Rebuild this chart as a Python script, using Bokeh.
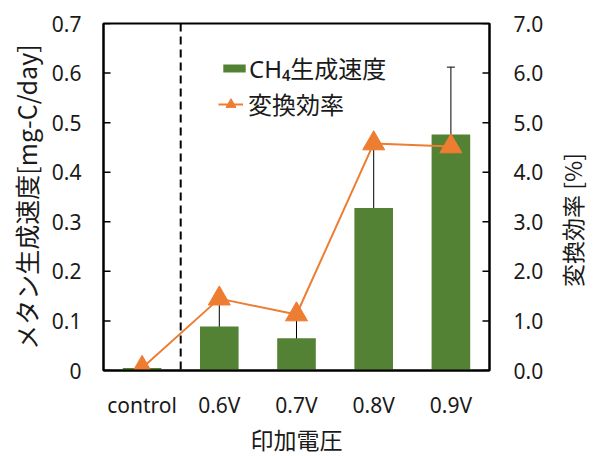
import math
from bokeh.plotting import figure
from bokeh.layouts import row
from bokeh.models import (Range1d, LinearAxis, FixedTicker, PrintfTickFormatter, Span,
                          Whisker, TeeHead, ColumnDataSource, Legend, LegendItem, FactorRange)
from bokeh.core.properties import value
from bokeh.embed import file_html
from bokeh.resources import INLINE

categories = ["control", "0.6V", "0.7V", "0.8V", "0.9V"]
ch4_rate = [0.005, 0.089, 0.065, 0.328, 0.476]
ch4_err = [0.0, 0.065, 0.051, 0.128, 0.136]
efficiency = [0.05, 1.45, 1.13, 4.58, 4.52]
left_ticks = [0, 0.1, 0.2, 0.3, 0.4, 0.5, 0.6, 0.7]
right_ticks = [0, 1, 2, 3, 4, 5, 6, 7]
right_label = "変換効率 [%]"

GREEN = "#548235"
ORANGE = "#ED7D31"
JP = "Noto Sans CJK JP"
LAT = "Noto Sans"
TXT = "#1a1a1a"

BL, BT, FW, FH, BR, BB = 103, 23, 386, 347, 60, 80
H = BT + FH + BB

lower = [v - e for v, e in zip(ch4_rate, ch4_err)]
upper = [v + e for v, e in zip(ch4_rate, ch4_err)]
src = ColumnDataSource(dict(cat=categories, rate=ch4_rate, lower=lower, upper=upper, eff=efficiency))
err_src = ColumnDataSource(dict(cat=categories[1:], lower=lower[1:], upper=upper[1:]))

p = figure(x_range=FactorRange(factors=categories), y_range=Range1d(0, 0.7),
           frame_width=FW, frame_height=FH,
           min_border_left=BL, min_border_right=BR, min_border_top=BT, min_border_bottom=BB,
           output_backend="svg", toolbar_location=None)
p.extra_y_ranges = {"right": Range1d(0, 7)}

bars = p.vbar(x="cat", top="rate", width=0.5, source=src, fill_color=GREEN, line_color=None)

wh = Whisker(base="cat", lower="lower", upper="upper", source=err_src, line_color="black", line_width=1,
             upper_head=TeeHead(size=8, line_color="black", line_width=1),
             lower_head=TeeHead(size=8, line_color="black", line_width=1))
p.add_layout(wh)

ln = p.line(x="cat", y="eff", source=src, y_range_name="right", line_color=ORANGE, line_width=2)
mk = p.scatter(x="cat", y="eff", source=src, y_range_name="right", marker="triangle", size=22,
               fill_color=ORANGE, line_color=ORANGE)

p.add_layout(Span(location=1, dimension="height", line_color="black", line_width=2, line_dash="8 5"))

# inward tick marks on both value axes (dash markers centred on the frame edges; outer half is clipped)
p.scatter(x=[0] * len(left_ticks), y=left_ticks, marker="dash", size=14,
          line_color="black", line_width=1.5)
p.scatter(x=[len(categories)] * len(right_ticks), y=right_ticks, y_range_name="right", marker="dash",
          size=14, line_color="black", line_width=1.5)

p.grid.visible = False
p.outline_line_color = "black"
p.outline_line_width = 2

ya = p.yaxis[0]
ya.ticker = FixedTicker(ticks=left_ticks)
ya.major_label_overrides = {0: "0"}
ya.axis_label = "メタン生成速度[mg-C/day]"

ra = LinearAxis(y_range_name="right", ticker=FixedTicker(ticks=right_ticks),
                formatter=PrintfTickFormatter(format="%.1f"))
p.add_layout(ra, "right")

xa = p.xaxis[0]
xa.axis_label = "印加電圧"

for ax in (ya, ra, xa):
    ax.axis_line_width = 2
    ax.axis_line_color = "black"
    ax.minor_tick_line_color = None
    ax.major_tick_line_color = None
    ax.major_tick_in = 0
    ax.major_tick_out = 0
    ax.major_label_text_font = LAT
    ax.major_label_text_font_size = "21px"
    ax.major_label_text_color = TXT
    ax.axis_label_text_font = JP
    ax.axis_label_text_font_size = "25px"
    ax.axis_label_text_font_style = "normal"
    ax.axis_label_text_color = TXT

ya.major_label_standoff = 22
ra.major_label_standoff = 24
xa.major_label_standoff = 20
ya.axis_label_standoff = 5
xa.axis_label_standoff = 0
xa.axis_label_text_font_size = "23px"

leg1 = Legend(items=[LegendItem(label="CH₄生成速度", renderers=[bars])],
              location=(117, 285), glyph_width=28, glyph_height=10, label_standoff=1,
              padding=0, margin=0, border_line_alpha=0, background_fill_alpha=0,
              label_text_font="Noto Sans, Noto Sans CJK JP", label_text_font_size="24px",
              label_text_color=TXT)
leg2 = Legend(items=[LegendItem(label="変換効率", renderers=[ln, mk])],
              location=(115, 249), glyph_width=25, glyph_height=30, label_standoff=5,
              padding=0, margin=0, border_line_alpha=0, background_fill_alpha=0,
              label_text_font=JP, label_text_font_size="24px", label_text_color=TXT)
p.add_layout(leg1)
p.add_layout(leg2)

# narrow side figure carrying the right-hand axis title, read bottom-to-top
p2 = figure(title=None, frame_width=44, frame_height=H, x_range=Range1d(0, 1), y_range=Range1d(0, H),
            x_axis_location=None, y_axis_location=None,
            min_border=0, output_backend="svg", toolbar_location=None)
p2.grid.visible = False
p2.outline_line_color = None
p2.text(x=[0.5], y=[H - (BT + FH / 2)], text=[right_label], angle=math.pi / 2,
        text_align="center", text_baseline="middle", text_font=value(JP),
        text_font_size="23px", text_color=TXT)

layout = row(p, p2, spacing=0)
open("out.html", "w").write(file_html(layout, INLINE))
